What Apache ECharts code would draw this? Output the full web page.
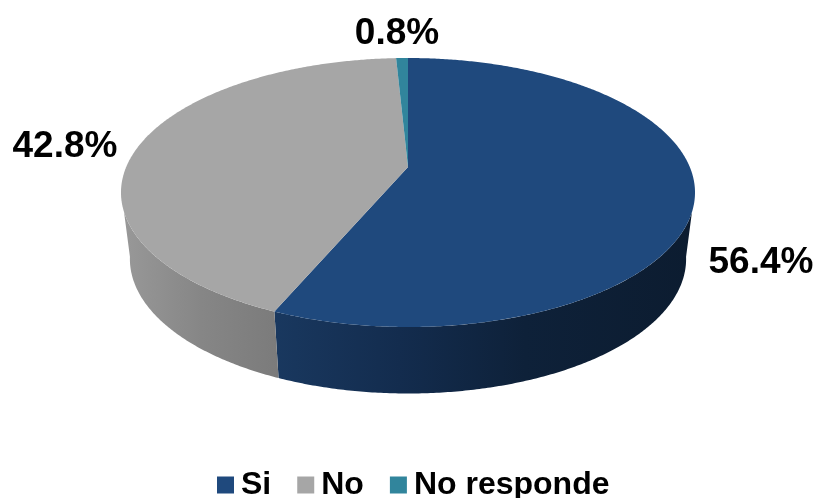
<!DOCTYPE html>
<html>
<head>
<meta charset="utf-8">
<style>html,body{margin:0;padding:0;background:#fff}#c{width:817px;height:498px}</style>
<script src="https://cdn.jsdelivr.net/npm/echarts@6/dist/echarts.min.js"></script>
</head>
<body>
<div id="c"></div>
<script>
const categories = ['Si', 'No', 'No responde'];
const values = [56.4, 42.8, 0.8];
const colors = ['#1f497d', '#a6a6a6', '#31859c'];

// Disc projection: a circle seen in perspective (still an ellipse, apex off-centre)
const CX = 408, K = 281.8, A = 98, B = 167, C = -0.1896;
const DEPTH = 66.5, BOTTOM_SCALE = 0.969, TOP_Y_MID = 192.5;
const FONT = '"Liberation Sans", Arial, sans-serif';
const labelAnchors = [[761, 263], [65, 147], [397, 34]];
const wallStops = [
  [[0, '#19385f'], [0.3, '#132c4e'], [0.6, '#0e2139'], [1, '#0c1c30']],
  [[0, '#989898'], [0.5, '#868686'], [1, '#7b7b7b']]
];
// visible front wall limits in degrees clockwise from 12 o'clock
const WALL_TOP = [109, 251], WALL_BOTTOM = [100, 260];

const total = values.reduce((a, b) => a + b, 0);
function topPoint(deg) {
  const t = deg * Math.PI / 180, u = Math.sin(t), v = -Math.cos(t), w = 1 + C * v;
  return [CX + K * u / w, (A * v + B) / w];
}
function bottomPoint(deg) {
  const p = topPoint(deg);
  return [CX + (p[0] - CX) * BOTTOM_SCALE, p[1] + DEPTH];
}
function arc(fn, a, b) {
  const n = Math.max(2, Math.ceil(Math.abs(b - a) * 2)), pts = [];
  for (let i = 0; i <= n; i++) pts.push(fn(a + (b - a) * i / n));
  return pts;
}
function startOf(idx) {
  let s = 0;
  for (let i = 0; i < idx; i++) s += values[i];
  return s / total * 360;
}
function renderSlice(idx) {
  return function (params, api) {
    const val = api.value(0);
    const a = startOf(idx), b = a + val / total * 360;
    const children = [];
    // side wall
    const topA = Math.max(a, WALL_TOP[0]), topB = Math.min(b, WALL_TOP[1]);
    if (topB > topA) {
      const botA = a <= WALL_TOP[0] ? WALL_BOTTOM[0] : a;
      const botB = b >= WALL_TOP[1] ? WALL_BOTTOM[1] : b;
      children.push({
        type: 'polygon',
        shape: { points: arc(topPoint, topA, topB).concat(arc(bottomPoint, botB, botA)) },
        style: { fill: { type: 'linear', x: 0, y: 0, x2: 1, y2: 0, colorStops: wallStops[idx].map(s => ({ offset: s[0], color: s[1] })) } }
      });
    }
    // top face
    children.push({
      type: 'polygon',
      shape: { points: [[CX, B]].concat(arc(topPoint, a, b)) },
      style: { fill: colors[idx] }
    });
    // value label
    children.push({
      type: 'text',
      style: {
        x: labelAnchors[idx][0], y: labelAnchors[idx][1],
        text: val.toFixed(1) + '%',
        fill: '#000', font: 'bold 37px ' + FONT,
        align: 'center', verticalAlign: 'middle'
      }
    });
    return { type: 'group', children };
  };
}

const chart = echarts.init(document.getElementById('c'));
chart.setOption({
  animation: false,
  backgroundColor: '#fff',
  legend: {
    data: categories,
    left: 212, top: 464,
    icon: 'rect', itemWidth: 17, itemHeight: 17, itemGap: 26,
    selectedMode: false,
    textStyle: { color: '#000', fontFamily: FONT, fontWeight: 'bold', fontSize: 32, padding: [0, 0, 0, 2] }
  },
  series: categories.map((name, i) => ({
    type: 'custom',
    name,
    coordinateSystem: 'none',
    itemStyle: { color: colors[i] },
    renderItem: renderSlice(i),
    data: [[values[i]]],
    silent: true
  }))
});
</script>
</body>
</html>
